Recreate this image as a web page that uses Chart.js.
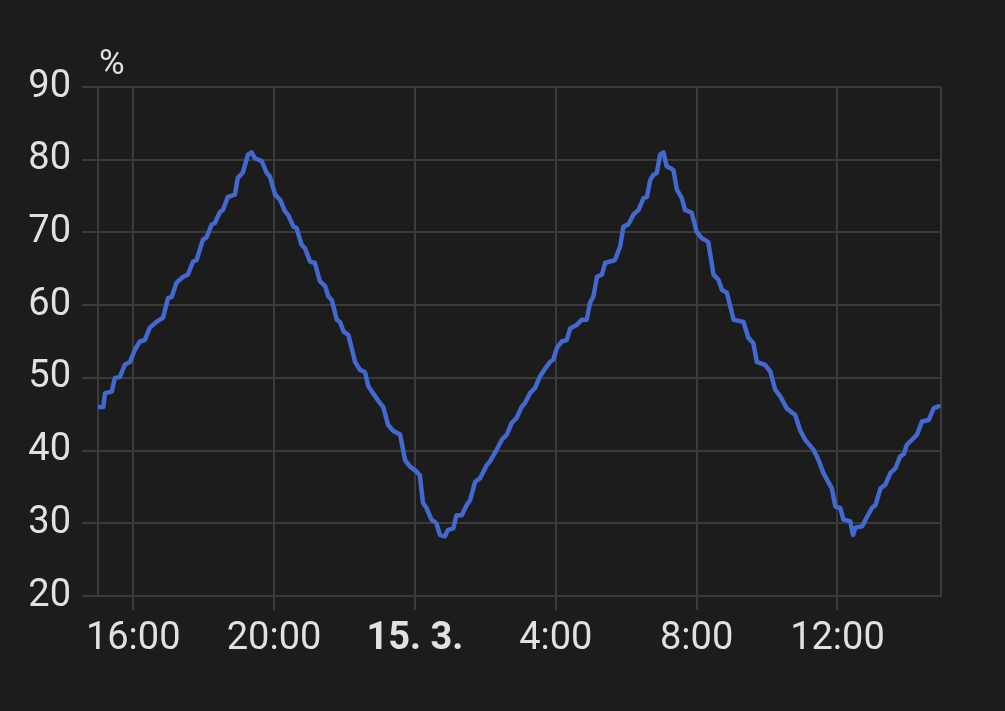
<!DOCTYPE html>
<html lang="en">
<head>
    <meta charset="UTF-8">
    <title>Humidity history</title>
    <script src="https://cdn.jsdelivr.net/npm/chart.js"></script>
    <style>
        html, body { margin: 0; padding: 0; background: #1c1c1c; }
        #wrap { width: 1005px; height: 711px; }
    </style>
</head>
<body>
    <div id="wrap"><canvas id="historyChart" width="1005" height="711"></canvas></div>

    <script>
        // hours since midnight 14.3. (24 = midnight 15.3.)
        const times = [
            15.01, 15.15, 15.20, 15.39, 15.48, 15.62, 15.76, 15.91, 16.05, 16.19,
            16.33, 16.47, 16.66, 16.85, 16.99, 17.09, 17.23, 17.42, 17.55, 17.70,
            17.80, 17.98, 18.08, 18.23, 18.32, 18.46, 18.55, 18.69, 18.89, 18.97,
            19.11, 19.26, 19.36, 19.46, 19.65, 19.79, 19.88, 20.03, 20.17, 20.31,
            20.40, 20.55, 20.64, 20.78, 20.88, 21.02, 21.16, 21.30, 21.45, 21.54,
            21.64, 21.78, 21.87, 21.97, 22.11, 22.30, 22.44, 22.58, 22.68, 22.81,
            23.01, 23.10, 23.24, 23.39, 23.58, 23.72, 23.86, 24.05, 24.14, 24.23,
            24.33, 24.47, 24.61, 24.71, 24.85, 24.94, 25.09, 25.18, 25.33, 25.47,
            25.57, 25.71, 25.85, 26.04, 26.13, 26.32, 26.47, 26.61, 26.75, 26.89,
            27.03, 27.12, 27.27, 27.41, 27.55, 27.70, 27.84, 27.93, 28.03, 28.17,
            28.31, 28.41, 28.60, 28.74, 28.88, 28.97, 29.07, 29.17, 29.31, 29.40,
            29.54, 29.68, 29.83, 29.92, 30.06, 30.20, 30.35, 30.49, 30.59, 30.68,
            30.77, 30.87, 30.96, 31.06, 31.15, 31.34, 31.44, 31.58, 31.67, 31.86,
            32.00, 32.15, 32.33, 32.48, 32.62, 32.72, 32.86, 33.05, 33.33, 33.47,
            33.61, 33.71, 33.94, 34.09, 34.23, 34.37, 34.56, 34.80, 34.94, 35.08,
            35.32, 35.46, 35.60, 35.84, 35.94, 36.08, 36.17, 36.36, 36.44, 36.51,
            36.70, 36.84, 36.98, 37.08, 37.22, 37.36, 37.50, 37.65, 37.78, 37.88,
            37.97, 38.12, 38.26, 38.40, 38.59, 38.73, 38.87
        ];

        const humidity = [
            46.0, 46.0, 47.9, 48.1, 50.0, 50.1, 51.8, 52.2, 53.9, 55.0,
            55.2, 56.9, 57.7, 58.3, 61.0, 61.1, 63.1, 63.9, 64.2, 66.0,
            66.2, 69.0, 69.3, 71.1, 71.3, 72.8, 73.1, 74.9, 75.2, 77.5,
            78.2, 80.7, 81.0, 80.2, 79.8, 78.2, 77.7, 75.2, 74.5, 72.9,
            72.4, 70.8, 70.6, 68.3, 67.8, 66.0, 65.8, 63.3, 62.6, 61.2,
            60.7, 58.0, 57.7, 56.4, 55.9, 52.2, 51.1, 50.8, 48.8, 47.9,
            46.5, 46.0, 43.5, 42.7, 42.2, 38.7, 37.8, 37.1, 36.6, 32.8,
            32.1, 30.5, 30.0, 28.4, 28.2, 29.1, 29.3, 31.1, 31.1, 32.5,
            33.2, 35.7, 36.2, 38.0, 38.5, 40.1, 41.5, 42.2, 43.8, 44.5,
            46.0, 46.5, 47.9, 48.6, 50.2, 51.3, 52.2, 52.5, 54.1, 55.0,
            55.2, 56.8, 57.3, 58.0, 58.0, 60.3, 61.2, 63.9, 64.2, 65.8,
            66.0, 66.2, 68.1, 70.8, 71.1, 72.4, 73.1, 74.7, 74.9, 77.2,
            77.9, 78.2, 80.7, 81.0, 79.1, 78.6, 75.9, 74.7, 73.1, 72.7,
            70.1, 69.2, 68.7, 64.2, 63.5, 62.1, 61.7, 58.0, 57.7, 55.5,
            54.8, 52.2, 51.8, 50.9, 48.4, 47.5, 45.8, 44.9, 42.8, 41.5,
            40.1, 38.7, 36.9, 34.8, 32.3, 32.1, 30.5, 30.3, 28.4, 29.4,
            29.6, 30.9, 32.1, 32.5, 34.8, 35.3, 36.9, 37.6, 39.2, 39.5,
            40.8, 41.5, 42.2, 44.0, 44.2, 45.8, 46.1
        ];

        const xTickValues = [16, 20, 24, 28, 32, 36];
        const xTickLabels = ['16:00', '20:00', '15. 3.', '4:00', '8:00', '12:00'];
        const dayTick = 24;
        const unitLabel = '%';

        const textColor = '#e1e1e1';
        const gridColor = '#3b3b3b';
        const fontFamily = 'Roboto, "Noto Sans", sans-serif';

        // unit label above the y axis + right frame line
        const framePlugin = {
            id: 'frame',
            beforeDatasetsDraw(chart) {
                const { ctx, chartArea } = chart;
                ctx.save();
                ctx.strokeStyle = gridColor;
                ctx.lineWidth = 2;
                ctx.beginPath();
                ctx.moveTo(chartArea.right, chartArea.top);
                ctx.lineTo(chartArea.right, chartArea.bottom);
                ctx.stroke();
                ctx.restore();
            },
            afterDraw(chart) {
                const { ctx, chartArea } = chart;
                ctx.save();
                ctx.fillStyle = textColor;
                ctx.font = '35px ' + fontFamily;
                ctx.textAlign = 'left';
                ctx.textBaseline = 'alphabetic';
                ctx.fillText(unitLabel, chartArea.left + 1, chartArea.top - 13);
                ctx.restore();
            }
        };

        function initChart() {
            const ctx = document.getElementById('historyChart').getContext('2d');

            new Chart(ctx, {
                type: 'line',
                data: {
                    datasets: [{
                        label: 'Humidity',
                        data: times.map((t, i) => ({ x: t, y: humidity[i] })),
                        borderColor: '#4269d0',
                        borderWidth: 4.5,
                        pointRadius: 0,
                        tension: 0,
                        borderJoinStyle: 'round',
                        borderCapStyle: 'round',
                        fill: false
                    }]
                },
                options: {
                    responsive: false,
                    animation: false,
                    layout: {
                        padding: { top: 87, right: 64, left: 0, bottom: 0 }
                    },
                    plugins: {
                        legend: { display: false },
                        tooltip: { enabled: false }
                    },
                    scales: {
                        x: {
                            type: 'linear',
                            min: 15,
                            max: 38.94,
                            afterBuildTicks: (scale) => {
                                scale.ticks = xTickValues.map(v => ({ value: v }));
                            },
                            afterFit: (scale) => { scale.height = 115; },
                            ticks: {
                                autoSkip: false,
                                maxRotation: 0,
                                padding: 7,
                                color: textColor,
                                font: (c) => ({
                                    family: fontFamily,
                                    size: 38,
                                    weight: (c.tick && c.tick.value === dayTick) ? 'bold' : 'normal'
                                }),
                                callback: (value) => xTickLabels[xTickValues.indexOf(value)]
                            },
                            grid: {
                                color: gridColor,
                                lineWidth: 2,
                                tickLength: 14
                            },
                            border: { color: gridColor, width: 2 }
                        },
                        y: {
                            min: 20,
                            max: 90,
                            afterFit: (scale) => { scale.width = 98; },
                            ticks: {
                                stepSize: 10,
                                padding: 11,
                                color: textColor,
                                font: { family: fontFamily, size: 38 }
                            },
                            grid: {
                                color: gridColor,
                                lineWidth: 2,
                                tickLength: 16
                            },
                            border: { color: gridColor, width: 2 }
                        }
                    }
                },
                plugins: [framePlugin]
            });
        }

        document.addEventListener('DOMContentLoaded', initChart);
    </script>
</body>
</html>
